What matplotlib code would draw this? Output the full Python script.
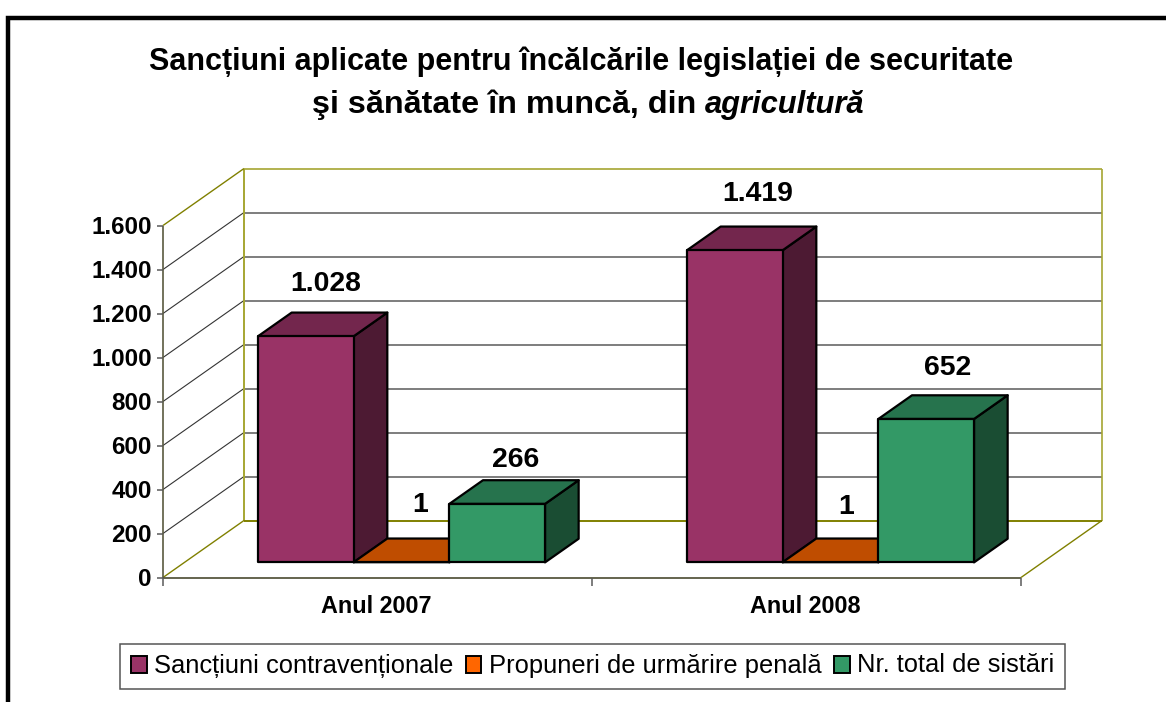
#!/usr/bin/env python3
import matplotlib
matplotlib.use('Agg')
import matplotlib.pyplot as plt
from matplotlib.patches import Patch, Polygon, Rectangle

# Data
categories = ['Anul 2007', 'Anul 2008']
series_names = ['Sancțiuni contravenționale', 'Propuneri de urmărire penală', 'Nr. total de sistări']
sanctiuni = [1028, 1419]
propuneri = [1, 1]
sistari = [266, 652]
value_labels = [['1.028', '1.419'], ['1', '1'], ['266', '652']]
y_ticks = [0, 200, 400, 600, 800, 1000, 1200, 1400, 1600]
y_tick_labels = ['0', '200', '400', '600', '800', '1.000', '1.200', '1.400', '1.600']

FRONT = ['#993366', '#FF6600', '#339966']
TOP = ['#73264D', '#BF4D00', '#26734D']
SIDE = ['#4D1A33', '#803300', '#1A4D33']
WALL = '#808000'
WALL_LIGHT = '#A6A632'
GRID = '#5A5A5A'

W, H = 1166, 702
# oblique depth of the floor, in axis units
DEPTH_X = 81 / 429
DEPTH_Y = 57 / 0.22
BAR_W = 0.223
BAR_D0 = 0.265
BAR_D1 = 0.68
# label nudges in pixels, the labels are not placed evenly in the original
LABEL_DX = [[-14, -11], [-15, -18], [-16, -13]]
LABEL_DY = [[28, 32], [33, 31], [20, 27]]

plt.rcParams['font.family'] = ['Liberation Sans', 'DejaVu Sans']

fig = plt.figure(figsize=(W / 100, H / 100), dpi=100)
ax = fig.add_axes([163 / W, 1 - 577.5 / H, 858 / W, 352 / H])
ax.set_xlim(0, 2)
ax.set_ylim(0, 1600)
ax.patch.set_visible(False)
for s in ax.spines.values():
    s.set_visible(False)


def proj(x, y, d):
    return (x + d * DEPTH_X, y + d * DEPTH_Y)


def line3d(p0, p1, **kw):
    a = proj(*p0)
    b = proj(*p1)
    ax.plot([a[0], b[0]], [a[1], b[1]], clip_on=False, solid_capstyle='butt', **kw)


# gridlines on the back and side walls
for v in y_ticks[1:-1]:
    line3d((0, v, 1), (2, v, 1), color=GRID, lw=1.1, zorder=1)
    line3d((0, v, 0), (0, v, 1), color='#333333', lw=0.8, zorder=1)

# wall and floor outline
line3d((0, 1600, 1), (2, 1600, 1), color=WALL_LIGHT, lw=1.2, zorder=1)
line3d((2, 0, 1), (2, 1600, 1), color=WALL_LIGHT, lw=1.2, zorder=1)
line3d((0, 0, 1), (0, 1600, 1), color=WALL_LIGHT, lw=1.4, zorder=1)
line3d((0, 1600, 0), (0, 1600, 1), color=WALL, lw=1.0, zorder=1)
line3d((0, 0, 1), (2, 0, 1), color=WALL, lw=1.4, zorder=1)
line3d((0, 0, 0), (0, 0, 1), color=WALL, lw=1.0, zorder=1)
line3d((2, 0, 0), (2, 0, 1), color=WALL, lw=1.0, zorder=1)

# axes on the front plane
line3d((0, 0, 0), (2, 0, 0), color='#4A4A30', lw=1.2, zorder=1)
line3d((0, 0, 0), (0, 1600, 0), color='#5A5A40', lw=1.2, zorder=1)
ax.set_yticks(y_ticks)
ax.set_yticklabels(y_tick_labels, fontsize=17.4, fontweight='bold')
ax.set_xticks([0, 1, 2])
ax.set_xticklabels([])
ax.tick_params(axis='y', length=4, width=1.1, color=GRID, pad=4)
ax.tick_params(axis='x', length=6, width=1.1, color=GRID)
for i, cat in enumerate(categories):
    ax.annotate(cat, (i + 0.5, 0), xytext=(-1, -21), textcoords='offset points',
                ha='center', va='center', fontsize=16.8, fontweight='bold')

# bars, drawn back to front
series = [sanctiuni, propuneri, sistari]
start = (1 - 3 * BAR_W) / 2 + 0.006
for i in range(len(categories)):
    for j, vals in enumerate(series):
        v = vals[i]
        x0 = i + start + j * BAR_W
        x1 = x0 + BAR_W
        z = 3 + j * 0.1
        top = [proj(x0, v, BAR_D0), proj(x1, v, BAR_D0), proj(x1, v, BAR_D1), proj(x0, v, BAR_D1)]
        side = [proj(x1, 0, BAR_D0), proj(x1, v, BAR_D0), proj(x1, v, BAR_D1), proj(x1, 0, BAR_D1)]
        front = [proj(x0, 0, BAR_D0), proj(x1, 0, BAR_D0), proj(x1, v, BAR_D0), proj(x0, v, BAR_D0)]
        for pts, col in ((side, SIDE[j]), (top, TOP[j]), (front, FRONT[j])):
            ax.add_patch(Polygon(pts, closed=True, facecolor=col, edgecolor='black',
                                 lw=1.6, joinstyle='round', clip_on=False, zorder=z))
        lx, ly = proj((x0 + x1) / 2, v, 0.685)
        ax.annotate(value_labels[j][i], (lx, ly),
                    xytext=(LABEL_DX[j][i] * 0.72, LABEL_DY[j][i] * 0.72),
                    textcoords='offset points', ha='center', va='center',
                    fontsize=20.4, fontweight='bold', zorder=6)

# outer frame of the picture
fig.add_artist(Rectangle((8 / W, -0.1), 1.1, 1.1 - 18 / H, transform=fig.transFigure,
                         facecolor='none', edgecolor='black', lw=3.2))

# title, the last word is italic
fig.text(581 / W, 1 - 62 / H, 'Sancțiuni aplicate pentru încălcările legislației de securitate',
         ha='center', va='center', fontsize=22, fontweight='bold')
t0 = fig.text(312 / W, 1 - 105 / H, 'şi sănătate în muncă, din ', ha='left', va='center',
              fontsize=23.2, fontweight='bold')
fig.canvas.draw()
bb = t0.get_window_extent()
fig.text(bb.x1 / W, 1 - 105 / H, 'agricultură', ha='left', va='center',
         fontsize=22.2, fontweight='bold', fontstyle='italic')

# legend
handles = [Patch(facecolor=c, edgecolor='black', lw=1.4) for c in FRONT]
leg = fig.legend(handles, series_names, loc='center left', bbox_to_anchor=(120 / W, 1 - 666.5 / H),
                 ncol=3, fontsize=18.4, frameon=True, fancybox=False, framealpha=1,
                 edgecolor='#555555', handlelength=0.62, handleheight=0.62,
                 handletextpad=0.3, columnspacing=0.47, borderpad=0.42, borderaxespad=0)
leg.get_frame().set_linewidth(1.1)
# last entry has no descenders and sits low otherwise
leg.get_texts()[2].set_y(2)

fig.savefig('out.png', dpi=100, facecolor='white')
